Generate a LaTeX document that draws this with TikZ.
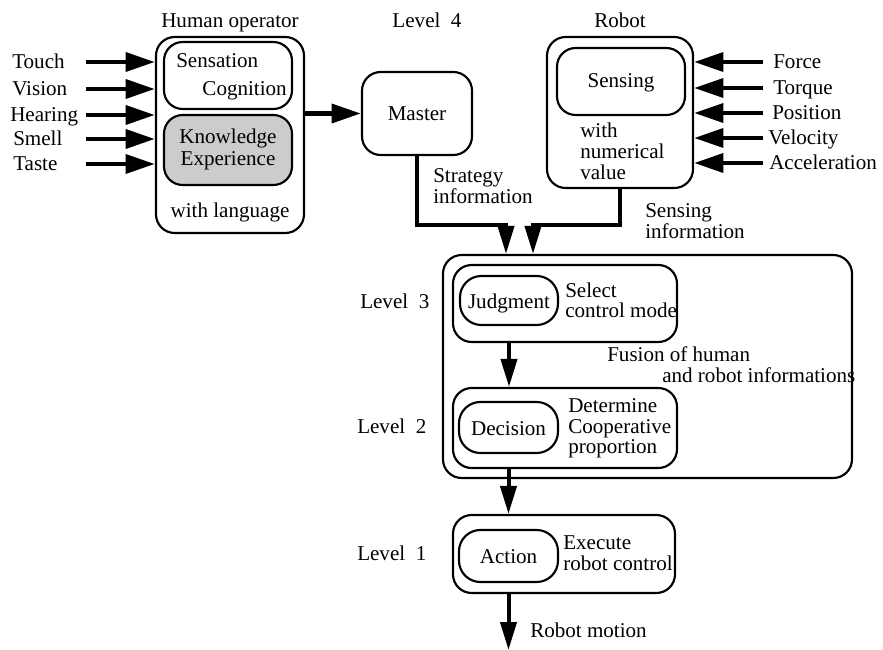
\documentclass[tikz,border=0pt]{standalone}
\usepackage{fontspec}
\setmainfont{Liberation Serif}
\usetikzlibrary{arrows.meta}
\begin{document}
\begin{tikzpicture}[x=0.75pt,y=-0.75pt,
  every node/.style={font=\fontsize{15.8}{16}\selectfont, inner sep=0pt},
  box/.style={draw, line width=1.6pt, rounded corners=14pt, inner sep=0pt},
  pill/.style={draw, line width=1.6pt, rounded corners=16pt, inner sep=0pt},
  txt/.style={anchor=base west},
  ctxt/.style={anchor=base},
  arr/.style={line width=3.5pt, -{Triangle[length=22pt,width=14pt]}},
  darr/.style={line width=3pt, -{Triangle[length=21pt,width=12pt]}}
]
\useasboundingbox (0,0) rectangle (883,650);

% Human operator
\node[box, minimum width=111pt, minimum height=147pt] (H) at (230,135) {};
\node[box, minimum width=96pt, minimum height=50.25pt] (SC) at (228,75.5) {};
\node[box, fill=gray!40, minimum width=96pt, minimum height=52.5pt] (KE) at (228,150) {};
\node[ctxt] (tHum) at (230,27) {Human operator};
\node[txt] (tSens) at (176,67) {Sensation};
\node[anchor=base east] (tCog) at (287,95) {Cognition};
\node[ctxt] (tKnow) at (228,143) {Knowledge};
\node[ctxt] (tExp) at (228,165) {Experience};
\node[ctxt] (tLang) at (230,217) {with language};

% Master
\node[box, minimum width=82.5pt, minimum height=62.25pt] (M) at (417,113.5) {};
\node[ctxt] (tMas) at (417,120) {Master};
\node[ctxt] (tL4) at (427,27) {Level\hspace{0.5em}4};

% Robot
\node[box, minimum width=109.5pt, minimum height=113.25pt] (R) at (620,112.5) {};
\node[box, minimum width=96pt, minimum height=50.25pt] (S) at (621,81.5) {};
\node[ctxt] (tRob) at (620,27) {Robot};
\node[ctxt] (tSensing) at (621,87) {Sensing};
\node[txt] (tWith) at (580,137) {with};
\node[txt] (tNum) at (580,158) {numerical};
\node[txt] (tVal) at (580,179) {value};

% Left inputs
\node[txt] (lTouch) at (12,68) {Touch};
\node[txt] (lVision) at (12,95) {Vision};
\node[txt] (lHearing) at (10,121) {Hearing};
\node[txt] (lSmell) at (13,145) {Smell};
\node[txt] (lTaste) at (13,170) {Taste};
\coordinate (cTouch) at (86,62);
\coordinate (cVision) at (86,89);
\coordinate (cHearing) at (86,115);
\coordinate (cSmell) at (86,139);
\coordinate (cTaste) at (86,164);
\foreach \c in {cTouch,cVision,cHearing,cSmell,cTaste}
  \draw[arr] (\c) -- (H.west |- \c);

% Right inputs
\node[txt] (rForce) at (773,68) {Force};
\node[txt] (rTorque) at (773,94) {Torque};
\node[txt] (rPos) at (772,119) {Position};
\node[txt] (rVel) at (768,144) {Velocity};
\node[txt] (rAcc) at (769,169) {Acceleration};
\coordinate (cForce) at (763,62);
\coordinate (cTorque) at (763,88);
\coordinate (cPos) at (763,113);
\coordinate (cVel) at (763,138);
\coordinate (cAcc) at (763,163);
\foreach \c in {cForce,cTorque,cPos,cVel,cAcc}
  \draw[arr] (\c) -- (R.east |- \c);

% Human -> Master
\draw[arr] (M.west -| H.east) -- (M.west);

% Fusion block
\node[box, minimum width=306.75pt, minimum height=167.25pt] (F) at (647.5,366.5) {};
\node[box, minimum width=168pt, minimum height=57.75pt] (L3) at (565,303.5) {};
\node[pill, minimum width=73.5pt, minimum height=36.75pt] (J) at (509,300.5) {};
\node[box, minimum width=168pt, minimum height=60pt] (L2) at (565,428) {};
\node[pill, minimum width=74.25pt, minimum height=38.25pt] (D) at (508.5,427.5) {};
\node[box, minimum width=166.5pt, minimum height=58.5pt] (L1) at (564,554) {};
\node[pill, minimum width=74.25pt, minimum height=39pt] (A) at (508.5,556) {};

\node[ctxt] (tJ) at (509,308) {Judgment};
\node[ctxt] (tD) at (508.5,435) {Decision};
\node[ctxt] (tA) at (508.5,563) {Action};

\node[txt] (tL3) at (360,308) {Level\hspace{0.5em}3};
\node[txt] (tL2) at (357,433) {Level\hspace{0.5em}2};
\node[txt] (tL1) at (357,560) {Level\hspace{0.5em}1};

\node[txt] (tSel) at (565,297) {Select};
\node[txt] (tCtl) at (565,317) {control mode};
\node[txt] (tFus1) at (607,361) {Fusion of human};
\node[txt] (tFus2) at (662,382) {and robot informations};
\node[txt] (tDet) at (568,412) {Determine};
\node[txt] (tCoop) at (568,433) {Cooperative};
\node[txt] (tProp) at (568,453) {proportion};
\node[txt] (tExe) at (563,549) {Execute};
\node[txt] (tRc) at (563,570) {robot control};

\node[txt] (tStr1) at (433,182) {Strategy};
\node[txt] (tStr2) at (433,203) {information};
\node[txt] (tSi1) at (645,217) {Sensing};
\node[txt] (tSi2) at (645,238) {information};
\node[txt] (tMot) at (530,637) {Robot motion};

% Connectors into fusion block
\coordinate (sj) at (506,225);
\coordinate (rj) at (533,225);
\draw[darr] (M.south) |- (sj) -- (F.north -| sj);
\draw[darr] (R.south) |- (rj) -- (F.north -| rj);

% Level connectors
\draw[darr] (L3.south -| J) -- (L2.north -| J);
\draw[darr] (L2.south -| D) -- (L1.north -| D);
\coordinate (out) at (508.5,650);
\draw[darr] (L1.south -| A) -- (out);
\end{tikzpicture}
\end{document}
